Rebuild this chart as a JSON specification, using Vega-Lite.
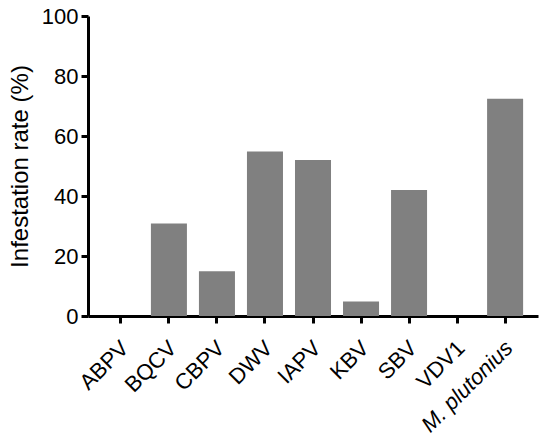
{
  "$schema": "https://vega.github.io/schema/vega-lite/v6.json",
  "autosize": "none",
  "width": 450,
  "height": 300,
  "padding": {"left": 88, "top": 16, "right": 12, "bottom": 122},
  "background": "white",
  "data": {"values": [
    {"agent": "ABPV", "rate": 0},
    {"agent": "BQCV", "rate": 30.8},
    {"agent": "CBPV", "rate": 14.9},
    {"agent": "DWV", "rate": 54.8},
    {"agent": "IAPV", "rate": 52.0},
    {"agent": "KBV", "rate": 4.8},
    {"agent": "SBV", "rate": 42.0},
    {"agent": "VDV1", "rate": 0},
    {"agent": "M. plutonius", "rate": 72.4}
  ]},
  "config": {
    "view": {"stroke": null},
    "font": "Liberation Sans"
  },
  "mark": {"type": "bar", "color": "#808080"},
  "encoding": {
    "x": {
      "field": "agent", "type": "nominal", "sort": null,
      "scale": {"paddingInner": 0.25, "paddingOuter": 0.31},
      "axis": {
        "title": null,
        "labelAngle": -45,
        "labelFontSize": 22,
        "labelColor": "black",
        "labelFontStyle": {"condition": {"test": "datum.value == 'M. plutonius'", "value": "italic"}, "value": "normal"},
        "domainColor": "black", "domainWidth": 3,
        "tickColor": "black", "tickWidth": 3, "tickSize": 7,
        "labelPadding": 14,
        "labelOffset": -3
      }
    },
    "y": {
      "field": "rate", "type": "quantitative",
      "scale": {"domain": [0, 100], "nice": false},
      "axis": {
        "title": "Infestation rate (%)",
        "titleFontSize": 24, "titleFontWeight": "normal", "titleColor": "black",
        "values": [0, 20, 40, 60, 80, 100],
        "grid": false,
        "labelFontSize": 22, "labelColor": "black",
        "domainColor": "black", "domainWidth": 3,
        "tickColor": "black", "tickWidth": 3, "tickSize": 7,
        "labelPadding": 3,
        "titlePadding": 9
      }
    }
  }
}
